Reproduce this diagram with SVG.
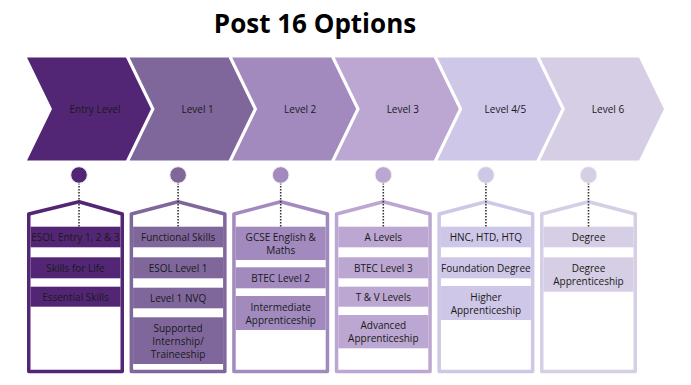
<svg xmlns="http://www.w3.org/2000/svg" width="691" height="385" viewBox="0 0 691 385">
<style>
.title{font-family:"Open Sans","Liberation Sans",sans-serif;font-weight:700;font-size:26px;fill:#000;text-anchor:middle}
.lvl{font-family:"Open Sans","Liberation Sans",sans-serif;font-size:10px;fill:#1a1a1a;text-anchor:middle;dominant-baseline:central}
.t{font-family:"Open Sans","Liberation Sans",sans-serif;font-size:10px;fill:#1a1a1a;text-anchor:middle;dominant-baseline:central}
.tag{fill:#fff;stroke-width:3.5;stroke-linejoin:round}
.dot{stroke:#333;stroke-width:1.6;stroke-dasharray:1.6 1.4;fill:none}
.c1{fill:#532675}.s1{stroke:#532675}
.c2{fill:#7f679c}.s2{stroke:#7f679c}
.c3{fill:#a28abf}.s3{stroke:#a28abf}
.c4{fill:#bba7d1}.s4{stroke:#bba7d1}
.c5{fill:#cec7e7}.s5{stroke:#cec7e7}
.c6{fill:#d6cee4}.s6{stroke:#d6cee4}
</style>
<rect width="691" height="385" fill="#fff"/>
<text class="title" x="315" y="33">Post 16 Options</text>

<g id="chevrons">
<g id="chev-entry"><polygon class="c1" points="27,57.5 126,57.5 151,109 126,160.5 27,160.5 52,109"/><text class="lvl" x="95" y="109">Entry Level</text></g>
<g id="chev-l1"><polygon class="c2" points="129.6,57.5 228.6,57.5 253.6,109 228.6,160.5 129.6,160.5 154.6,109"/><text class="lvl" x="197.6" y="109">Level 1</text></g>
<g id="chev-l2"><polygon class="c3" points="232.2,57.5 331.2,57.5 356.2,109 331.2,160.5 232.2,160.5 257.2,109"/><text class="lvl" x="300.2" y="109">Level 2</text></g>
<g id="chev-l3"><polygon class="c4" points="334.8,57.5 433.8,57.5 458.8,109 433.8,160.5 334.8,160.5 359.8,109"/><text class="lvl" x="402.8" y="109">Level 3</text></g>
<g id="chev-l45"><polygon class="c5" points="437.4,57.5 536.4,57.5 561.4,109 536.4,160.5 437.4,160.5 462.4,109"/><text class="lvl" x="505.4" y="109">Level 4/5</text></g>
<g id="chev-l6"><polygon class="c6" points="540,57.5 639,57.5 664,109 639,160.5 540,160.5 565,109"/><text class="lvl" x="608" y="109">Level 6</text></g>
</g>

<g id="col-entry">
<path class="tag s1" d="M28.75,371.5 V214 L79,201.75 L122.25,214 V371.5 Z"/>
<rect class="c1" x="30.5" y="226.7" width="90" height="20.6"/>
<rect class="c1" x="30.5" y="257.3" width="90" height="21"/>
<rect class="c1" x="30.5" y="286.7" width="90" height="20"/>
<text class="t" x="75.5" y="237">ESOL Entry 1, 2 &amp; 3</text>
<text class="t" x="75.5" y="267.8">Skills for Life</text>
<text class="t" x="75.5" y="296.7">Essential Skills</text>
</g>

<g id="col-l1">
<path class="tag s2" d="M131.35,371.5 V214 L178.1,201.75 L224.85,214 V371.5 Z"/>
<rect class="c2" x="133.1" y="226.7" width="90" height="20.6"/>
<rect class="c2" x="133.1" y="257.3" width="90" height="21"/>
<rect class="c2" x="133.1" y="287.7" width="90" height="20.6"/>
<rect class="c2" x="133.1" y="317.3" width="90" height="46.7"/>
<text class="t" x="178.1" y="237">Functional Skills</text>
<text class="t" x="178.1" y="267.8">ESOL Level 1</text>
<text class="t" x="178.1" y="298">Level 1 NVQ</text>
<text class="t" x="178.1" y="327.7">Supported</text>
<text class="t" x="178.1" y="341">Internship/</text>
<text class="t" x="178.1" y="354.3">Traineeship</text>
</g>

<g id="col-l2">
<path class="tag s3" d="M233.95,371.5 V214 L280.7,201.75 L327.45,214 V371.5 Z"/>
<rect class="c3" x="235.7" y="226.7" width="90" height="33.3"/>
<rect class="c3" x="235.7" y="267.3" width="90" height="21"/>
<rect class="c3" x="235.7" y="296" width="90" height="34"/>
<text class="t" x="280.7" y="237">GCSE English &amp;</text>
<text class="t" x="280.7" y="250">Maths</text>
<text class="t" x="280.7" y="277.8">BTEC Level 2</text>
<text class="t" x="280.7" y="306.5">Intermediate</text>
<text class="t" x="280.7" y="319.5">Apprenticeship</text>
</g>

<g id="col-l3">
<path class="tag s4" d="M336.55,371.5 V214 L383.3,201.75 L430.05,214 V371.5 Z"/>
<rect class="c4" x="338.3" y="226.7" width="90" height="20.6"/>
<rect class="c4" x="338.3" y="257.3" width="90" height="21"/>
<rect class="c4" x="338.3" y="286.7" width="90" height="20"/>
<rect class="c4" x="338.3" y="315" width="90" height="33.3"/>
<text class="t" x="383.3" y="237">A Levels</text>
<text class="t" x="383.3" y="267.8">BTEC Level 3</text>
<text class="t" x="383.3" y="296.7">T &amp; V Levels</text>
<text class="t" x="383.3" y="325.3">Advanced</text>
<text class="t" x="383.3" y="338.3">Apprenticeship</text>
</g>

<g id="col-l45">
<path class="tag s5" d="M439.15,371.5 V214 L485.9,201.75 L532.65,214 V371.5 Z"/>
<rect class="c5" x="440.9" y="226.7" width="90" height="20.6"/>
<rect class="c5" x="440.9" y="257.3" width="90" height="21"/>
<rect class="c5" x="440.9" y="286" width="90" height="34"/>
<text class="t" x="485.9" y="237">HNC, HTD, HTQ</text>
<text class="t" x="485.9" y="267.8">Foundation Degree</text>
<text class="t" x="485.9" y="296.5">Higher</text>
<text class="t" x="485.9" y="309.5">Apprenticeship</text>
</g>

<g id="col-l6">
<path class="tag s6" d="M541.75,371.5 V214 L588.5,201.75 L635.25,214 V371.5 Z"/>
<rect class="c6" x="543.5" y="226.7" width="90" height="20.6"/>
<rect class="c6" x="543.5" y="257.3" width="90" height="34.4"/>
<text class="t" x="588.5" y="237">Degree</text>
<text class="t" x="588.5" y="268">Degree</text>
<text class="t" x="588.5" y="281">Apprenticeship</text>
</g>

<g id="connectors">
<line class="dot" x1="79" y1="183" x2="79" y2="226.7"/>
<line class="dot" x1="178.1" y1="183" x2="178.1" y2="226.7"/>
<line class="dot" x1="280.7" y1="183" x2="280.7" y2="226.7"/>
<line class="dot" x1="383.3" y1="183" x2="383.3" y2="226.7"/>
<line class="dot" x1="485.9" y1="183" x2="485.9" y2="226.7"/>
<line class="dot" x1="588.5" y1="183" x2="588.5" y2="226.7"/>
</g>

<g id="pins" stroke="#eeeeee" stroke-width="1">
<circle class="c1" cx="79" cy="175" r="8.3"/>
<circle class="c2" cx="178.1" cy="175" r="8.3"/>
<circle class="c3" cx="280.7" cy="175" r="8.3"/>
<circle class="c4" cx="383.3" cy="175" r="8.3"/>
<circle class="c5" cx="485.9" cy="175" r="8.3"/>
<circle class="c6" cx="588.5" cy="175" r="8.3"/>
</g>
</svg>
